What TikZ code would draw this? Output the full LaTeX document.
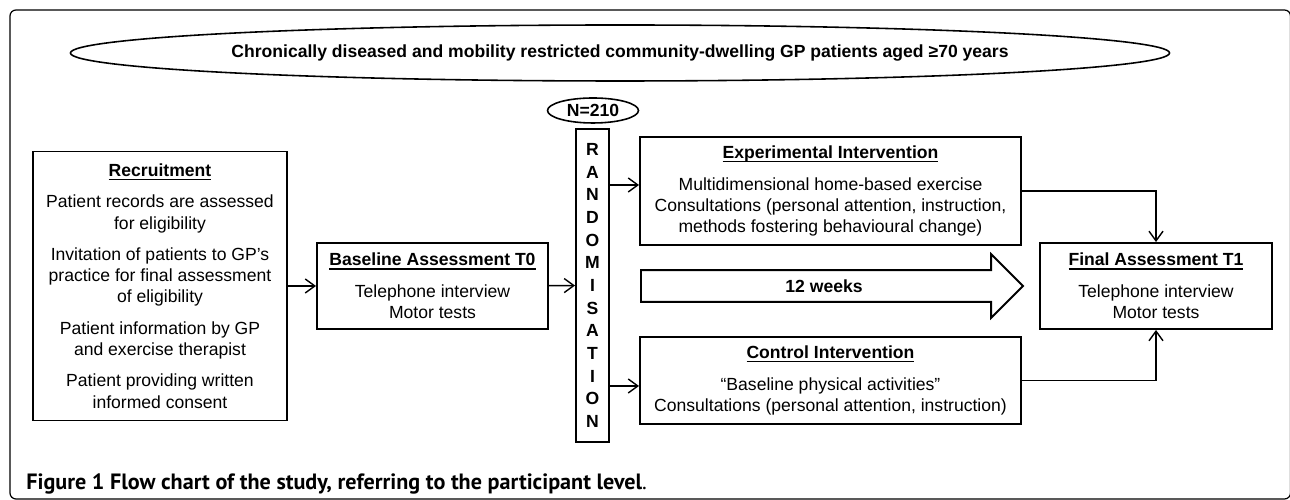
\documentclass[tikz,border=0pt]{standalone}
\usepackage{fontspec}
\setmainfont{Liberation Sans}
\newfontfamily\captionfont{PT Sans}
\usetikzlibrary{positioning, arrows.meta, shapes.geometric, shapes.arrows}

\newcommand{\titleul}[1]{\setbox0\hbox{\textbf{#1}}\rlap{\rule[-2.1pt]{\wd0}{0.7pt}}\box0}

\begin{document}
\begin{tikzpicture}[
    box/.style={rectangle, draw=black, line width=1.1pt, align=center, inner sep=0pt,
                font=\fontsize{10}{12.2}\selectfont},
    oval/.style={ellipse, draw=black, line width=0.9pt, inner sep=0pt,
                 font=\fontsize{10}{12}\selectfont\bfseries},
    bar/.style={rectangle, draw=black, line width=1.1pt, align=center, inner sep=0pt,
                minimum width=0.66cm, minimum height=6.26cm,
                font=\fontsize{10}{12.9}\selectfont\bfseries},
    weeks/.style={single arrow, draw=black, line width=1.1pt, single arrow head extend=0.32cm,
                  single arrow tip angle=90, minimum height=7.64cm, text height=7.2pt,
                  text depth=0pt, inner ysep=4.9pt, font=\fontsize{10}{12}\selectfont\bfseries},
    arrow/.style={-{Straight Barb[length=5.5pt, width=8pt]}, line width=0.8pt}
]
    \useasboundingbox (0, 0) rectangle (25.8, 10);

    % Frame
    \draw[line width=0.7pt, rounded corners=0.12cm] (0.2, 0.02) rectangle (25.81, 9.8);

    % Population
    \node[oval, minimum width=20.32cm, minimum height=1.12cm] (title) at (12.4, 8.94)
        {Chronically diseased and mobility restricted community-dwelling GP patients aged ≥70 years};
    \node[oval, minimum width=1.82cm, minimum height=0.5cm] (n210) at (11.86, 7.79) {N=210};

    % Recruitment
    \node[box, minimum width=5.08cm, minimum height=5.38cm] (recruit) at (3.2, 4.28)
        {\titleul{Recruitment}\\[5.5pt]
         Patient records are assessed\\ for eligibility\\[5.5pt]
         Invitation of patients to GP’s\\ practice for final assessment\\ of eligibility\\[5.5pt]
         Patient information by GP\\ and exercise therapist\\[5.5pt]
         Patient providing written\\ informed consent};

    % Baseline T0
    \node[box, minimum width=4.62cm, minimum height=1.72cm] (baseline) at (8.65, 4.28)
        {\titleul{Baseline Assessment T0}\\[5.5pt] Telephone interview\\ Motor tests};

    % Randomisation
    \node[bar] (rand) at (11.85, 4.29) {R\\A\\N\\D\\O\\M\\I\\S\\A\\T\\I\\O\\N};

    % Intervention arms
    \node[box, minimum width=7.62cm, minimum height=2.16cm] (exp) at (16.61, 6.18)
        {\titleul{Experimental Intervention}\\[6pt]
         Multidimensional home-based exercise\\
         Consultations (personal attention, instruction,\\
         methods fostering behavioural change)};
    \node[weeks, anchor=tail] (weeks) at (12.8, 4.28) {12 weeks};
    \node[box, minimum width=7.62cm, minimum height=1.74cm] (ctrl) at (16.61, 2.39)
        {\titleul{Control Intervention}\\[6pt]
         “Baseline physical activities”\\
         Consultations (personal attention, instruction)};

    % Final T1
    \node[box, minimum width=4.64cm, minimum height=1.72cm] (final) at (23.12, 4.28)
        {\titleul{Final Assessment T1}\\[5.5pt] Telephone interview\\ Motor tests};

    % Arrows
    \coordinate (expin) at ([yshift=0.12cm]exp.west);
    \coordinate (ctrlin) at ([yshift=-0.11cm]ctrl.west);
    \draw[arrow] (recruit) -- (baseline);
    \draw[arrow] (baseline) -- (rand);
    \draw[arrow] (rand.east |- expin) -- (expin);
    \draw[arrow] (rand.east |- ctrlin) -- (ctrlin);
    \draw[arrow] (exp.east) -| (final.north);
    \draw[arrow] (ctrl.east) -| (final.south);

    % Caption
    \node[anchor=base west, inner sep=0pt, font=\captionfont\fontsize{12.6}{14}\selectfont] (caption)
        at (0.52, 0.2) {\textbf{Figure 1 Flow chart of the study, referring to the participant level}.};

\end{tikzpicture}
\end{document}
